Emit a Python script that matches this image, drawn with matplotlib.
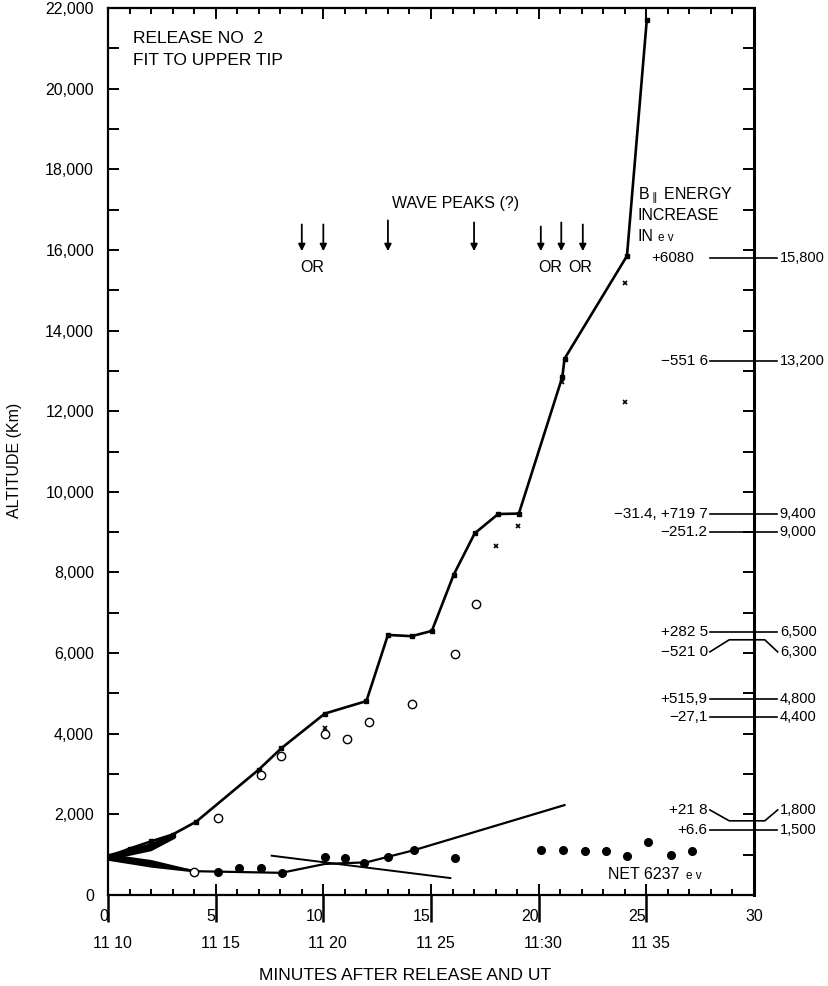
import matplotlib.pyplot as plt
from matplotlib.ticker import MultipleLocator, FuncFormatter

plt.rcParams['font.family'] = ['Liberation Sans', 'DejaVu Sans']
FS = 11.5

# upper tip fit (minutes after release, altitude km)
upper_min = [0, 1, 2, 3, 4.1, 7.0, 8.05, 10.07, 12.0, 13.0, 14.1, 15.04, 16.05, 17.03,
             18.12, 19.08, 21.1, 21.2, 24.1, 25.02]
upper_alt = [950, 1150, 1330, 1500, 1820, 3110, 3640, 4500, 4810, 6450, 6420, 6550, 7940,
             8970, 9450, 9460, 12850, 13300, 15850, 21700]

# dense early points drawn as wedges
upper_wedge_min = [0, 2, 3.1]
upper_wedge_top = [1030, 1300, 1570]
upper_wedge_bot = [870, 1100, 1410]
lower_wedge_min = [0, 2, 4.1]
lower_wedge_top = [1030, 880, 610]
lower_wedge_bot = [860, 690, 565]

# lower fits
lowA_min = [0, 4.1, 8.05, 10.07, 12.0, 14.2, 21.2]
lowA_alt = [950, 590, 550, 770, 810, 1110, 2230]
lowB_min = [7.6, 15.9]
lowB_alt = [975, 420]

# open circles
circ_min = [4.0, 5.1, 7.1, 8.05, 10.07, 11.1, 12.1, 14.1, 16.1, 17.1]
circ_alt = [580, 1920, 2980, 3450, 3990, 3860, 4280, 4740, 5980, 7220]

# small crosses
cross_min = [10.07, 18.0, 19.05, 21.07, 24.02, 24.02]
cross_alt = [4130, 8660, 9140, 12730, 15190, 12240]

# lower filled dots
dot_min = [5.1, 6.1, 7.1, 8.1, 10.1, 11.0, 11.9, 13.0, 14.2, 16.1, 20.1, 21.15, 22.15,
           23.15, 24.1, 25.1, 26.15, 27.1]
dot_alt = [570, 680, 680, 550, 935, 910, 800, 935, 1115, 920, 1115, 1115, 1100, 1100,
           970, 1310, 990, 1090]

# wave peaks (?)
peak_min = [9, 10, 13, 17, 20.1, 21.05, 22.05]
peak_top = [16700, 16700, 16800, 16750, 16650, 16750, 16700]

# energy increase annotations
energy_labels = ["+6080", "\u2212551 6", "\u221231.4, +719 7", "\u2212251.2", "+282 5",
                 "\u2212521 0", "+515,9", "\u221227,1", "+21 8", "+6.6"]
alt_labels = ["15,800", "13,200", "9,400", "9,000", "6,500", "6,300", "4,800", "4,400",
              "1,800", "1,500"]
text_alt = [15800, 13250, 9450, 9000, 6530, 6030, 4850, 4420, 2110, 1600]
cross_level = [15800, 13250, 9450, 9000, 6530, 6330, 4850, 4420, 1840, 1600]

xticks = [0, 5, 10, 15, 20, 25, 30]
ut_ticks = [0, 5, 10, 15, 20, 25]
ut_labels = ["11 10", "11 15", "11 20", "11 25", "11:30", "11 35"]

fig = plt.figure(figsize=(8.29, 9.86), dpi=100)
ax = fig.add_axes([108 / 829, 91 / 986, 646 / 829, 887 / 986])
ax.set_xlim(0, 30)
ax.set_ylim(0, 22000)

# fits
ax.plot(upper_min, upper_alt, color='black', lw=1.9, marker='s', ms=3.5, zorder=3)
ax.fill_between(upper_wedge_min, upper_wedge_bot, upper_wedge_top, color='black', lw=0)
ax.fill_between(lower_wedge_min, lower_wedge_bot, lower_wedge_top, color='black', lw=0)
ax.plot(lowA_min, lowA_alt, color='black', lw=1.6, zorder=3)
ax.plot(lowB_min, lowB_alt, color='black', lw=1.4, zorder=3)

ax.plot(circ_min, circ_alt, ls='none', marker='o', ms=6, mfc='white', mec='black',
        mew=1.0, zorder=4)
ax.plot(cross_min, cross_alt, ls='none', marker='x', ms=3.5, mec='black', mew=1.2, zorder=4)
ax.plot(dot_min, dot_alt, ls='none', marker='o', ms=5.5, color='black', zorder=4)

# wave peak arrows
for xm, yt in zip(peak_min, peak_top):
    ax.annotate("", xy=(xm, 15900), xytext=(xm, yt),
                arrowprops=dict(arrowstyle='-|>', color='black', lw=1.3, mutation_scale=10))
ax.text(16.15, 17160, "WAVE PEAKS (?)", ha='center', va='center', fontsize=FS)
ax.text(9.5, 15570, "OR", ha='center', va='center', fontsize=FS)
ax.text(20.55, 15570, "OR", ha='center', va='center', fontsize=FS)
ax.text(21.95, 15570, "OR", ha='center', va='center', fontsize=FS)

ax.text(1.15, 21250, "RELEASE NO  2", ha='left', va='center', fontsize=12.5)
ax.text(1.15, 20700, "FIT TO UPPER TIP", ha='left', va='center', fontsize=12.5)

ax.text(24.6, 17360, "B$_{\\parallel}$ ENERGY", ha='left', va='center', fontsize=FS)
ax.text(24.6, 16860, "INCREASE", ha='left', va='center', fontsize=FS)
ax.text(24.6, 16340, "IN", ha='left', va='center', fontsize=FS)
ax.text(25.55, 16300, "e v", ha='left', va='center', fontsize=8.5)
ax.text(23.2, 500, "NET 6237", ha='left', va='center', fontsize=FS)
ax.text(26.85, 470, "e v", ha='left', va='center', fontsize=8.5)

# energy / altitude side labels
for lab, alab, ty, cy in zip(energy_labels, alt_labels, text_alt, cross_level):
    ex = 27.2 if lab == "+6080" else 27.85
    ax.text(ex, ty, lab, ha='right', va='center', fontsize=11, clip_on=False)
    ax.text(31.2, ty, alab, ha='left', va='center', fontsize=10.5, clip_on=False)
    if ty == cy:
        ax.plot([27.95, 31.05], [ty, ty], color='black', lw=1.2, clip_on=False)
    else:
        ax.plot([27.95, 28.85, 30.5, 31.1], [ty, cy, cy, ty], color='black', lw=1.2,
                clip_on=False)

# axes styling
for s in ['left', 'bottom', 'top']:
    ax.spines[s].set_linewidth(1.6)
ax.spines['right'].set_linewidth(2.2)

ax.xaxis.set_major_locator(MultipleLocator(5))
ax.xaxis.set_minor_locator(MultipleLocator(1))
ax.yaxis.set_major_locator(MultipleLocator(2000))
ax.yaxis.set_minor_locator(MultipleLocator(1000))
ax.yaxis.set_major_formatter(FuncFormatter(lambda v, p: f"{int(v):,}"))
ax.tick_params(axis='both', which='both', direction='in', top=True, right=True,
               labelsize=FS, width=1.4)
ax.tick_params(axis='x', which='major', length=8, pad=10)
ax.tick_params(axis='x', which='minor', length=4.5)
ax.tick_params(axis='y', which='both', length=8, pad=10)

ax.set_xticks(xticks)
ax.set_xticklabels([str(v) for v in xticks])
for v, lbl in zip(xticks, ax.get_xticklabels()):
    if v < 30:
        lbl.set_ha('right')

xt = ax.get_xaxis_transform()
ax.vlines(ut_ticks, -27 / 887, 0, transform=xt, colors='black', lw=1.8, clip_on=False)
for v, lab in zip(ut_ticks, ut_labels):
    ax.text(v + 0.2, -48 / 887, lab, transform=xt, ha='center', va='center',
            fontsize=FS, clip_on=False)

fig.text(405 / 829, 1 - 975 / 986, "MINUTES AFTER RELEASE AND UT", ha='center',
         va='center', fontsize=12.5)
fig.text(15 / 829, 1 - 460 / 986, "ALTITUDE (Km)", ha='center', va='center',
         rotation=90, fontsize=FS)

fig.savefig("out.png", dpi=100)
